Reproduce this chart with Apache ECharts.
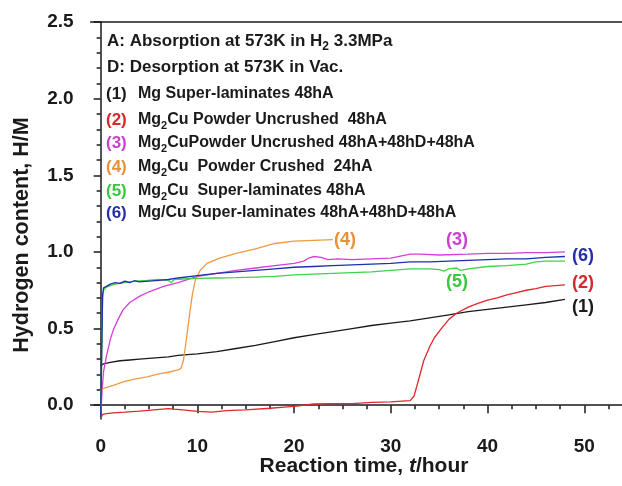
<!DOCTYPE html>
<html>
<head>
<meta charset="utf-8">
<script src="https://cdn.jsdelivr.net/npm/echarts@6/dist/echarts.min.js"></script>
<style>
html, body { margin: 0; padding: 0; background: #fff; }
#chart { width: 622px; height: 486px; }
</style>
</head>
<body>
<div id="chart"></div>
<script>
// axis ticks
const xMajor = [0, 10, 20, 30, 40, 50]
const xMinor = [2.5, 5, 7.5, 12.5, 15, 17.5, 22.5, 25, 27.5, 32.5, 35, 37.5, 42.5, 45, 47.5, 52.5]
const yMajor = [0, 0.5, 1, 1.5, 2, 2.5]
const yMinor = [0.1, 0.2, 0.3, 0.4, 0.6, 0.7, 0.8, 0.9, 1.1, 1.2, 1.3, 1.4, 1.6, 1.7, 1.8, 1.9, 2.1, 2.2, 2.3, 2.4]

// (1) Mg Super-laminates 48hA
const s1 = [[0,0.26],[0.3,0.27],[1,0.28],[2,0.29],[3,0.295],[4,0.30],[5,0.305],[6,0.31],[7,0.315],[8,0.325],[9,0.33],[10,0.335],[12,0.35],[14,0.37],[16,0.39],[18,0.415],[20,0.44],[22,0.46],[24,0.48],[26,0.50],[28,0.52],[30,0.535],[32,0.55],[34,0.57],[36,0.59],[38,0.61],[40,0.625],[42,0.64],[44,0.655],[46,0.67],[48,0.69]]
// (2) Mg2Cu Powder Uncrushed 48hA
const s2 = [[0,-0.085],[0.2,-0.06],[0.6,-0.055],[1.3,-0.05],[2.5,-0.045],[4,-0.038],[5.5,-0.03],[7,-0.022],[7.5,-0.025],[8.5,-0.03],[10,-0.04],[11.5,-0.045],[13,-0.035],[15,-0.03],[17.5,-0.02],[19,-0.012],[20.5,-0.005],[22,0.008],[24,0.01],[26,0.01],[28,0.018],[30,0.022],[31.5,0.028],[32,0.03],[32.4,0.06],[32.8,0.15],[33.4,0.29],[34,0.38],[34.5,0.44],[35.1,0.49],[36,0.56],[36.8,0.60],[38,0.64],[39,0.665],[40,0.685],[41,0.70],[42,0.72],[43,0.735],[44,0.75],[45,0.76],[46,0.775],[47,0.78],[48,0.785]]
// (3) Mg2CuPowder Uncrushed 48hA+48hD+48hA
const s3 = [[0,-0.08],[0.15,0.1],[0.3,0.22],[0.6,0.32],[1,0.43],[1.3,0.49],[1.8,0.56],[2.3,0.62],[3,0.67],[4,0.71],[5,0.74],[6.5,0.775],[8,0.80],[10,0.84],[12,0.86],[14,0.88],[16,0.895],[18,0.91],[20,0.925],[21,0.94],[21.5,0.96],[22,0.97],[22.8,0.965],[23.5,0.95],[24.5,0.955],[26,0.95],[28,0.955],[30,0.96],[32,0.985],[33,0.985],[35,0.98],[38,0.985],[40,0.99],[42,0.99],[44,0.995],[46,0.995],[48,1.0]]
// (4) Mg2Cu Powder Crushed 24hA
const s4 = [[0,0.09],[0.3,0.11],[1.3,0.13],[2.5,0.155],[3.5,0.17],[4.8,0.185],[6,0.205],[7,0.215],[8,0.23],[8.3,0.24],[8.55,0.29],[8.8,0.4],[9,0.5],[9.25,0.62],[9.5,0.73],[9.8,0.82],[10.3,0.88],[11,0.925],[12.3,0.96],[14,0.99],[16,1.02],[18,1.055],[20,1.07],[22,1.075],[24,1.08]]
// (5) Mg2Cu Super-laminates 48hA
const s5 = [[0,-0.08],[0.1,0.3],[0.2,0.7],[0.3,0.75],[0.6,0.77],[1,0.78],[1.5,0.79],[2.5,0.80],[3.5,0.81],[4.8,0.815],[6,0.82],[7,0.815],[7.3,0.80],[7.6,0.82],[9,0.825],[10,0.827],[12,0.83],[14,0.832],[16,0.836],[18,0.84],[20,0.85],[22,0.855],[24,0.86],[26,0.865],[28,0.87],[30,0.88],[32,0.89],[34,0.89],[35,0.885],[35.5,0.875],[36,0.89],[36.8,0.895],[37.2,0.88],[38,0.89],[40,0.905],[42,0.91],[44,0.92],[45,0.935],[46,0.94],[48,0.94]]
// (6) Mg/Cu Super-laminates 48hA+48hD+48hA
const s6 = [[0,-0.08],[0.1,0.3],[0.2,0.72],[0.3,0.765],[0.6,0.775],[1,0.79],[1.5,0.80],[2,0.795],[2.5,0.81],[3,0.80],[3.5,0.812],[4,0.805],[5,0.81],[6,0.815],[7,0.82],[8,0.83],[10,0.845],[12,0.86],[14,0.87],[16,0.88],[18,0.89],[20,0.90],[22,0.905],[24,0.91],[26,0.915],[28,0.92],[30,0.925],[32,0.935],[34,0.935],[36,0.94],[38,0.945],[40,0.95],[42,0.955],[44,0.955],[46,0.965],[48,0.97]]

const seriesData = [s1, s2, s3, s4, s5, s6]
const colors = ['#1a1a1a', '#e0282e', '#d43fd8', '#ec9a45', '#3fd24a', '#1f2fb0']
const labelColors = ['#1a1a1a', '#d9262b', '#cc3fcc', '#e8913a', '#38c83f', '#2530a8']
const names = ['(1)', '(2)', '(3)', '(4)', '(5)', '(6)']

const FONT = 'Liberation Sans'
const INK = '#1a1a1a'

const rich = {
  n: { fontFamily: FONT, fontWeight: 'bold', fontSize: 16, color: INK, lineHeight: 22, verticalAlign: 'middle' },
  s: { fontFamily: FONT, fontWeight: 'bold', fontSize: 11, color: INK, lineHeight: 11, verticalAlign: 'bottom' }
}

function txt(x, y, text, opts) {
  return {
    type: 'text', x: x, y: y, z: 10,
    style: Object.assign({ text: text, fontFamily: FONT, fontWeight: 'bold', fontSize: 16, fill: INK, verticalAlign: 'middle' }, opts || {})
  }
}

const legendLines = [
  { y: 94, d: '{n|Mg Super-laminates 48hA}' },
  { y: 120, d: '{n|Mg}{s|2}{n|Cu Powder Uncrushed  48hA}' },
  { y: 143, d: '{n|Mg}{s|2}{n|CuPowder Uncrushed 48hA+48hD+48hA}' },
  { y: 167, d: '{n|Mg}{s|2}{n|Cu  Powder Crushed  24hA}' },
  { y: 191, d: '{n|Mg}{s|2}{n|Cu  Super-laminates 48hA}' },
  { y: 213, d: '{n|Mg/Cu Super-laminates 48hA+48hD+48hA}' }
]

const graphics = [
  txt(107, 41, '{a|A: Absorption at 573K in H}{b|2}{a| 3.3MPa}', {
    rich: {
      a: { fontFamily: FONT, fontWeight: 'bold', fontSize: 17, color: INK, lineHeight: 24, verticalAlign: 'middle' },
      b: { fontFamily: FONT, fontWeight: 'bold', fontSize: 12, color: INK, lineHeight: 12, verticalAlign: 'bottom' }
    }
  }),
  txt(107, 67, 'D: Desorption at 573K in Vac.', { fontSize: 17 }),
  txt(22, 235, 'Hydrogen content, H/M', { fontSize: 21.5, align: 'center' }),
  txt(364, 466, '{a|Reaction time, }{i|t}{a|/hour}', {
    align: 'center',
    rich: {
      a: { fontFamily: FONT, fontWeight: 'bold', fontSize: 21, color: INK },
      i: { fontFamily: FONT, fontWeight: 'bold', fontStyle: 'italic', fontSize: 21, color: INK }
    }
  })
]
graphics[2].rotation = Math.PI / 2
legendLines.forEach((l, i) => {
  graphics.push(txt(106, l.y, names[i], { fontSize: 17, fill: labelColors[i] }))
  graphics.push(txt(138, l.y, l.d, { rich: rich }))
})
// curve tags
const tagPos = [[583, 307], [583, 283], [457, 240], [345, 240], [457, 282], [583, 256]]
tagPos.forEach((p, i) => {
  graphics.push(txt(p[0], p[1], names[i], { fontSize: 18, fill: labelColors[i], align: 'center' }))
})

const axisFont = { fontFamily: FONT, fontWeight: 'bold', fontSize: 19, color: INK }

const option = {
  animation: false,
  grid: { left: 90.6, right: 0, top: 22, bottom: 67 },
  xAxis: [
    {
      type: 'value', min: -1.04, max: 53.9, position: 'bottom',
      axisLine: { lineStyle: { color: INK, width: 1.5 } },
      axisTick: { customValues: xMajor, length: 8, lineStyle: { color: INK, width: 1.5 } },
      axisLabel: Object.assign({ customValues: xMajor, margin: 18 }, axisFont),
      splitLine: { show: false }
    },
    {
      type: 'value', min: -1.04, max: 53.9, position: 'bottom',
      axisLine: { show: false },
      axisTick: { customValues: xMinor, length: 4, lineStyle: { color: INK, width: 1.5 } },
      axisLabel: { show: false },
      splitLine: { show: false }
    },
    {
      // top frame line only
      type: 'value', min: -1.04, max: 53.9, position: 'top',
      axisLine: { show: true, lineStyle: { color: INK, width: 1.5 } },
      axisTick: { show: false },
      axisLabel: { show: false },
      splitLine: { show: false }
    }
  ],
  yAxis: [
    {
      type: 'value', min: -0.09, max: 2.5, position: 'left',
      axisLine: { show: true, lineStyle: { color: INK, width: 1.5 } },
      axisTick: { show: true, customValues: yMajor, length: 7, lineStyle: { color: INK, width: 1.5 } },
      axisLabel: Object.assign({ customValues: yMajor, margin: 17, formatter: v => v.toFixed(1) }, axisFont),
      splitLine: { show: false }
    },
    {
      type: 'value', min: -0.09, max: 2.5, position: 'left',
      axisLine: { show: false },
      axisTick: { show: true, customValues: yMinor, length: 4, lineStyle: { color: INK, width: 1.5 } },
      axisLabel: { show: false },
      splitLine: { show: false }
    }
  ],
  series: seriesData.map((d, i) => ({
    name: names[i],
    type: 'line',
    xAxisIndex: 0,
    yAxisIndex: 0,
    data: d,
    symbol: 'none',
    smooth: false,
    lineStyle: { color: colors[i], width: 1.3 },
    z: 2 + (i === 5 ? 1 : 0)
  })),
  graphic: graphics
}

const myChart = echarts.init(document.getElementById('chart'))
myChart.setOption(option)
</script>
</body>
</html>
